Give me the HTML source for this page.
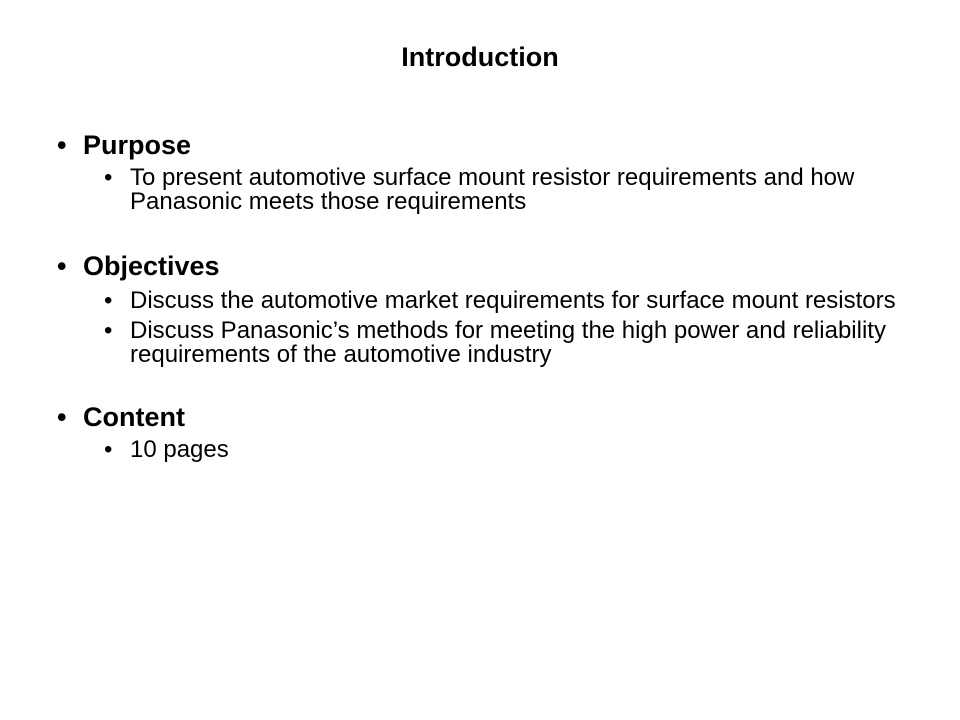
<!DOCTYPE html>
<html>
<head>
<meta charset="utf-8">
<style>
html,body{margin:0;padding:0;background:#fff;}
#p{position:relative;width:960px;height:720px;overflow:hidden;background:#fff;font-family:"Liberation Sans",Arial,sans-serif;color:#000;}
#p div{position:absolute;white-space:nowrap;}
.h{font-size:27px;font-weight:bold;line-height:28px;}
.s{font-size:24px;line-height:24px;}
</style>
</head>
<body>
<div id="p">
<div class="h" style="left:0;width:960px;text-align:center;top:43px;">Introduction</div>

<div class="h" style="left:57px;top:131px;">•</div>
<div class="h" style="left:83px;top:131px;">Purpose</div>
<div class="s" style="left:104px;top:166px;">•</div>
<div class="s" style="left:130px;top:166px;">To present automotive surface mount resistor requirements and how</div>
<div class="s" style="left:130px;top:190px;">Panasonic meets those requirements</div>

<div class="h" style="left:57px;top:252px;">•</div>
<div class="h" style="left:83px;top:252px;">Objectives</div>
<div class="s" style="left:104px;top:289px;">•</div>
<div class="s" style="left:130px;top:289px;">Discuss the automotive market requirements for surface mount resistors</div>
<div class="s" style="left:104px;top:319px;">•</div>
<div class="s" style="left:130px;top:319px;">Discuss Panasonic’s methods for meeting the high power and reliability</div>
<div class="s" style="left:130px;top:343px;">requirements of the automotive industry</div>

<div class="h" style="left:57px;top:403px;">•</div>
<div class="h" style="left:83px;top:403px;">Content</div>
<div class="s" style="left:104px;top:438px;">•</div>
<div class="s" style="left:130px;top:438px;">10 pages</div>
</div>
</body>
</html>
